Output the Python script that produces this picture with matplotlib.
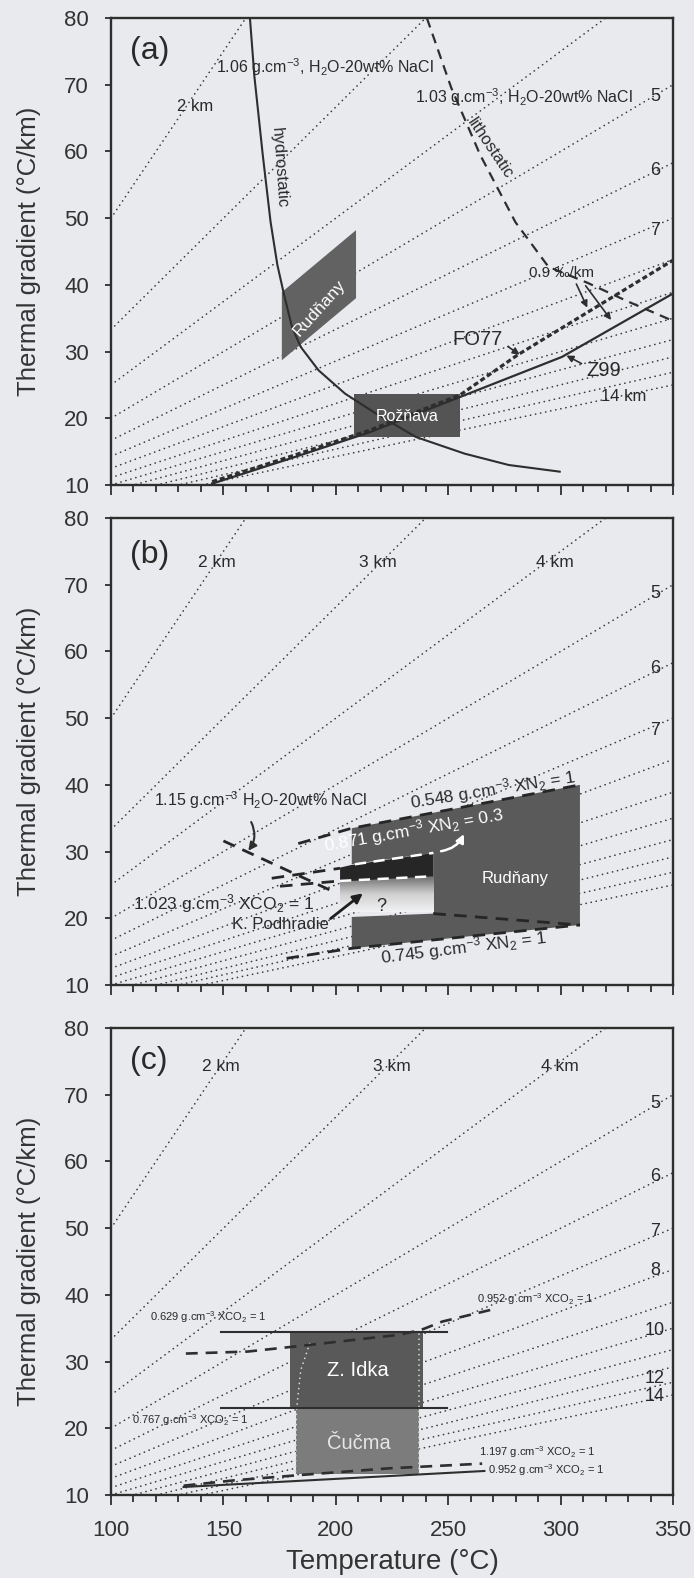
import matplotlib.pyplot as plt
import numpy as np
from matplotlib.patches import Polygon
from matplotlib.colors import LinearSegmentedColormap

plt.rcParams['font.family'] = ['Liberation Sans', 'DejaVu Sans']
plt.rcParams['mathtext.fontset'] = 'custom'
plt.rcParams['mathtext.rm'] = 'Liberation Sans'
plt.rcParams['mathtext.it'] = 'Liberation Sans:italic'
plt.rcParams['mathtext.bf'] = 'Liberation Sans:bold'

PAGE = '#e8eaed'
INK = '#2e2e2e'
DARK = '#5a5a5a'

# depth isolines (km), gradient read at T = 100 and T = 350 C
depth_km = [2, 3, 4, 5, 6, 7, 8, 9, 10, 11, 12, 13, 14]
iso_t = [100, 350]
iso_g_100 = [50, 33.3, 25, 20, 16.7, 14.3, 12.5, 11.1, 10, 9.1, 8.3, 7.7, 7.1]
iso_g_350 = [175, 116.7, 87.5, 70, 58.3, 50, 43.8, 38.9, 35, 31.8, 29.2, 26.9, 25]

# ---- panel (a) ----
hydro_t = [161.8, 163.8, 167.5, 171.0, 174.0, 177.0, 180.5, 184.4, 192.3, 204.1, 217.9, 235.6, 257.3, 276.9, 299.6]
hydro_g = [80, 71.2, 59.5, 49.4, 43.0, 38.5, 33.7, 30.7, 27.2, 23.7, 20.7, 17.2, 14.7, 13.0, 12.0]
litho_t = [240.5, 251.4, 264.2, 279.9, 294.6, 312, 330, 350]
litho_g = [80, 69.5, 59.5, 49.4, 42.7, 40.3, 37.5, 34.6]
rud_a_t = [176, 209, 209, 176]
rud_a_g = [28.7, 38.0, 48.2, 38.9]
roz_t = [208.1, 255.3]
roz_g = [17.2, 23.7]
z99_t = [145, 180, 215, 255.3, 300.6, 350]
z99_g = [10.2, 14.0, 17.9, 23.2, 29.2, 38.7]
fo77_t = [145, 180, 215, 255.3, 280.9, 350]
fo77_g = [10.5, 14.3, 18.2, 23.5, 29.5, 43.7]

# ---- panel (b) ----
rud_b_t = [207.1, 308.6, 308.6, 207.1, 207.1, 243.4, 243.4, 207.1]
rud_b_g = [33.5, 40.0, 19.0, 15.5, 20.2, 20.7, 29.8, 28.1]
band_t = [201.9, 207.1, 243.4, 243.4, 201.9]
band_g = [27.6, 28.0, 29.8, 26.3, 25.5]
grad_t = [201.9, 243.4]
grad_g = [21.0, 26.3]
b_top_t, b_top_g = [183.3, 207.1, 308.6], [31.2, 33.5, 40.0]
b_bot_t, b_bot_g = [178.1, 207.1, 308.6], [14.0, 15.5, 19.0]
b_mid_t, b_mid_g = [243.4, 308.6], [20.7, 19.0]
b_co2a_t, b_co2a_g = [171.5, 201.9], [26.0, 27.5]
b_co2b_t, b_co2b_g = [175.2, 201.9], [24.8, 25.6]
b_h2o_t, b_h2o_g = [150.0, 198.9], [31.6, 24.0]
b_wup_t, b_wup_g = [208.5, 243.4], [28.1, 29.8]
b_wlo_t, b_wlo_g = [201.9, 243.4], [25.6, 26.3]

# ---- panel (c) ----
idka_t, idka_g = [179.5, 238.6], [23.0, 34.5]
cucma_t, cucma_g = [182.1, 237.2], [13.2, 23.0]
c_top_t, c_top_g = [149, 249.4], [34.5, 34.5]
c_mid_t, c_mid_g = [149, 249.4], [23.0, 23.0]
c_low_t, c_low_g = [132.3, 266.1], [11.2, 13.6]
c_dup_t = [133.3, 160.8, 188.4, 227.7, 237.6, 247.4, 272]
c_dup_g = [31.2, 31.5, 32.5, 34.0, 34.7, 36.0, 38.0]
c_dlo_t = [132.3, 154.9, 184.4, 223.8, 265.1]
c_dlo_g = [11.4, 12.2, 13.0, 14.0, 14.7]
c_wl_t, c_wl_g = [188.4, 184.4, 182.5, 182.1], [32.7, 28.7, 22.7, 13.2]
c_wr_t, c_wr_g = [237.2, 237.2], [34.2, 13.2]

W, H = 694, 1578
fig = plt.figure(figsize=(W / 100, H / 100), dpi=100, facecolor=PAGE)

panel_top_px = [18, 518, 1028]
panel_h_px = 467
ax_left, ax_right = 111, 673

DOT = (0, (0.1, 3.0))
DASH = (0, (4.5, 3.0))


def make_axes(top_px, show_xlabels):
    ax = fig.add_axes([ax_left / W, 1 - (top_px + panel_h_px) / H,
                       (ax_right - ax_left) / W, panel_h_px / H])
    ax.set_facecolor(PAGE)
    ax.set_xlim(100, 350)
    ax.set_ylim(10, 80)
    ax.set_xticks(np.arange(100, 351, 50))
    ax.set_xticks(np.arange(100, 351, 10), minor=True)
    ax.set_yticks(np.arange(10, 81, 10))
    ax.tick_params(axis='both', which='both', direction='out', color=INK,
                   width=1.3, labelsize=16, labelcolor='#333')
    ax.tick_params(axis='y', length=4, pad=12)
    ax.tick_params(axis='x', which='major', length=7, pad=11)
    ax.tick_params(axis='x', which='minor', length=5)
    if not show_xlabels:
        ax.tick_params(axis='x', labelbottom=False)
    for s in ax.spines.values():
        s.set_linewidth(1.7)
        s.set_color(INK)
    for g0, g1 in zip(iso_g_100, iso_g_350):
        ax.plot(iso_t, [g0, g1], color='#3a3a3a', lw=1.2, ls=DOT,
                dash_capstyle='round', zorder=1)
    fig.text(29 / W, 1 - (top_px + panel_h_px / 2) / H, 'Thermal gradient (°C/km)',
             rotation=90, ha='center', va='center', fontsize=18.5, color='#333')
    return ax


axa = make_axes(panel_top_px[0], False)
axb = make_axes(panel_top_px[1], False)
axc = make_axes(panel_top_px[2], True)
axc.set_xlabel('Temperature (°C)', fontsize=20, color='#333', labelpad=6)

txt = dict(color='#2a2a2a', zorder=5)
ANN = 11.5

# ================= (a) =================
ax = axa
ax.add_patch(Polygon(list(zip(rud_a_t, rud_a_g)), closed=True, fc='#626262', ec='none', zorder=2))
ax.fill_between(roz_t, roz_g[0], roz_g[1], color='#545454', lw=0, zorder=2)
ax.plot(hydro_t, hydro_g, color=INK, lw=1.5, zorder=3)
ax.plot(litho_t, litho_g, color=INK, lw=1.6, ls=DASH, zorder=3)
ax.plot(z99_t, z99_g, color=INK, lw=1.6, zorder=3)
ax.plot(fo77_t, fo77_g, color=INK, lw=2.3, ls=(0, (1.6, 0.9)), zorder=3)

ax.text(108.5, 75, '(a)', fontsize=23, ha='left', va='center', **txt)
ax.text(195.3, 72.7, '1.06 g.cm$^{-3}$, H$_2$O-20wt% NaCl', fontsize=ANN, ha='center', va='center', **txt)
ax.text(283.8, 68.2, '1.03 g.cm$^{-3}$, H$_2$O-20wt% NaCl', fontsize=ANN, ha='center', va='center', **txt)
ax.text(175, 57.5, 'hydrostatic', fontsize=12, rotation=-86, ha='center', va='center', **txt)
ax.text(268.5, 60.5, 'lithostatic', fontsize=12, rotation=-56, ha='center', va='center', **txt)
ax.text(137.5, 66.7, '2 km', fontsize=12, ha='center', va='center', **txt)
for lab, g in zip(['5', '6', '7'], [68.2, 57.2, 48.2]):
    ax.text(342, g, lab, fontsize=13, ha='center', va='center', **txt)
ax.text(328, 23.2, '14 km', fontsize=12, ha='center', va='center', **txt)
ax.text(192.5, 36.5, 'Rudňany', fontsize=12.5, rotation=48, color='white', ha='center', va='center', zorder=5)
ax.text(231.7, 20.3, 'Rožňava', fontsize=11.5, color='white', ha='center', va='center', zorder=5)
ax.text(300.6, 41.8, '0.9 ‰/km', fontsize=11, ha='center', va='center', **txt)
arrow = dict(arrowstyle='-|>', color=INK, lw=1.2, mutation_scale=10)
ax.annotate('', xy=(312.4, 36.2), xytext=(306.5, 40.5), arrowprops=arrow, zorder=5)
ax.annotate('', xy=(323.2, 34.4), xytext=(310.4, 40.2), arrowprops=arrow, zorder=5)
ax.text(263.2, 31.8, 'FO77', fontsize=14.5, ha='center', va='center', **txt)
ax.annotate('', xy=(282.8, 29.3), xytext=(275.5, 31.0), arrowprops=arrow, zorder=5)
ax.text(319, 27.2, 'Z99', fontsize=14.5, ha='center', va='center', **txt)
ax.annotate('', xy=(301.5, 29.6), xytext=(310.4, 28.0), arrowprops=arrow, zorder=5)

# ================= (b) =================
ax = axb
ax.add_patch(Polygon(list(zip(rud_b_t, rud_b_g)), closed=True, fc=DARK, ec='none', zorder=2))
grad_cmap = LinearSegmentedColormap.from_list('fade', ['#f2f3f4', '#d0d0d0', '#6e6e6e'])
ax.imshow(np.linspace(0, 1, 64)[:, None], extent=[grad_t[0], grad_t[1], grad_g[0], grad_g[1]],
          cmap=grad_cmap, origin='lower', aspect='auto', zorder=2)
ax.add_patch(Polygon(list(zip(band_t, band_g)), closed=True, fc='#262626', ec='none', zorder=2))
bd = dict(color='#262626', lw=2.0, ls=DASH, zorder=3)
ax.plot(b_top_t, b_top_g, **bd)
ax.plot(b_bot_t, b_bot_g, **bd)
ax.plot(b_mid_t, b_mid_g, **bd)
ax.plot(b_co2a_t, b_co2a_g, **bd)
ax.plot(b_co2b_t, b_co2b_g, **bd)
ax.plot(b_h2o_t, b_h2o_g, **bd)
ax.plot(b_wup_t, b_wup_g, color='white', lw=1.8, ls=DASH, zorder=3)
ax.plot(b_wlo_t, b_wlo_g, color='white', lw=1.8, ls=DASH, zorder=3)

ax.text(108.5, 74.5, '(b)', fontsize=23, ha='left', va='center', **txt)
for lab, t in zip(['2 km', '3 km', '4 km'], [147.0, 218.9, 297.6]):
    ax.text(t, 73.4, lab, fontsize=12.5, ha='center', va='center', **txt)
for lab, g in zip(['5', '6', '7'], [68.7, 57.5, 48.2]):
    ax.text(342, g, lab, fontsize=13, ha='center', va='center', **txt)
ax.text(166.7, 37.7, '1.15 g.cm$^{-3}$ H$_2$O-20wt% NaCl', fontsize=ANN, ha='center', va='center', **txt)
ax.annotate('', xy=(160.3, 29.8), xytext=(161.8, 34.8),
            arrowprops=dict(arrowstyle='-|>', color=INK, lw=1.5, mutation_scale=12,
                            connectionstyle='arc3,rad=-0.35'), zorder=5)
ax.text(270, 39.3, '0.548 g.cm$^{-3}$ XN$_2$ = 1', fontsize=12.5, rotation=9, ha='center', va='center', **txt)
ax.text(234.5, 33.3, '0.871 g.cm$^{-3}$ XN$_2$ = 0.3', fontsize=12.5, rotation=10, color='white',
        ha='center', va='center', zorder=5)
ax.annotate('', xy=(257.5, 33.0), xytext=(245.6, 30.0),
            arrowprops=dict(arrowstyle='-|>', color='white', lw=1.8, mutation_scale=12,
                            connectionstyle='arc3,rad=0.3'), zorder=5)
ax.text(279.7, 26.0, 'Rudňany', fontsize=12, color='white', ha='center', va='center', zorder=5)
ax.text(220.4, 21.7, '?', fontsize=13, ha='center', va='center', **txt)
ax.text(150, 22.2, '1.023 g.cm$^{-3}$ XCO$_2$ = 1', fontsize=12.5, ha='center', va='center', **txt)
ax.text(175.2, 19.0, 'K. Podhradie', fontsize=12, ha='center', va='center', **txt)
ax.annotate('', xy=(213, 24.0), xytext=(196.7, 19.7),
            arrowprops=dict(arrowstyle='-|>', color='#1e1e1e', lw=2.0, mutation_scale=14), zorder=5)
ax.text(256.7, 15.7, '0.745 g.cm$^{-3}$ XN$_2$ = 1', fontsize=12.5, rotation=7, ha='center', va='center', **txt)

# ================= (c) =================
ax = axc
ax.fill_between(idka_t, idka_g[0], idka_g[1], color='#595959', lw=0, zorder=2)
ax.fill_between(cucma_t, cucma_g[0], cucma_g[1], color='#7c7c7c', lw=0, zorder=2)
ax.plot(c_wl_t, c_wl_g, color='#dcdcdc', lw=1.2, ls=DOT, dash_capstyle='round', zorder=3)
ax.plot(c_wr_t, c_wr_g, color='#dcdcdc', lw=1.2, ls=DOT, dash_capstyle='round', zorder=3)
ax.plot(c_top_t, c_top_g, color=INK, lw=1.5, zorder=3)
ax.plot(c_mid_t, c_mid_g, color=INK, lw=1.5, zorder=3)
ax.plot(c_low_t, c_low_g, color=INK, lw=1.5, zorder=3)
ax.plot(c_dup_t, c_dup_g, color=INK, lw=1.9, ls=DASH, zorder=3)
ax.plot(c_dlo_t, c_dlo_g, color=INK, lw=1.9, ls=DASH, zorder=3)

ax.text(108.5, 75, '(c)', fontsize=23, ha='left', va='center', **txt)
for lab, t in zip(['2 km', '3 km', '4 km'], [149.0, 224.8, 299.6]):
    ax.text(t, 74.2, lab, fontsize=12.5, ha='center', va='center', **txt)
for lab, g in zip(['5', '6', '7', '8', '10', '12', '14'], [68.7, 57.7, 49.5, 43.7, 34.7, 27.5, 24.7]):
    ax.text(342, g, lab, fontsize=13, ha='center', va='center', **txt)
ax.text(210, 28.7, 'Z. Idka', fontsize=14.5, color='white', ha='center', va='center', zorder=5)
ax.text(210.4, 17.7, 'Čučma', fontsize=14.5, color='#e6e6e6', ha='center', va='center', zorder=5)
small = dict(fontsize=8, ha='center', va='center', **txt)
ax.text(143.1, 36.7, '0.629 g.cm$^{-3}$ XCO$_2$ = 1', **small)
ax.text(288.8, 39.4, '0.952 g.cm$^{-3}$ XCO$_2$ = 1', **small)
ax.text(135.2, 21.2, '0.767 g.cm$^{-3}$ XCO$_2$ = 1', **small)
ax.text(289.7, 16.5, '1.197 g.cm$^{-3}$ XCO$_2$ = 1', **small)
ax.text(293.7, 13.7, '0.952 g.cm$^{-3}$ XCO$_2$ = 1', **small)

for a in (axa, axb, axc):
    a.set_xlim(100, 350)
    a.set_ylim(10, 80)

fig.savefig('out.png', dpi=100, facecolor=PAGE)
